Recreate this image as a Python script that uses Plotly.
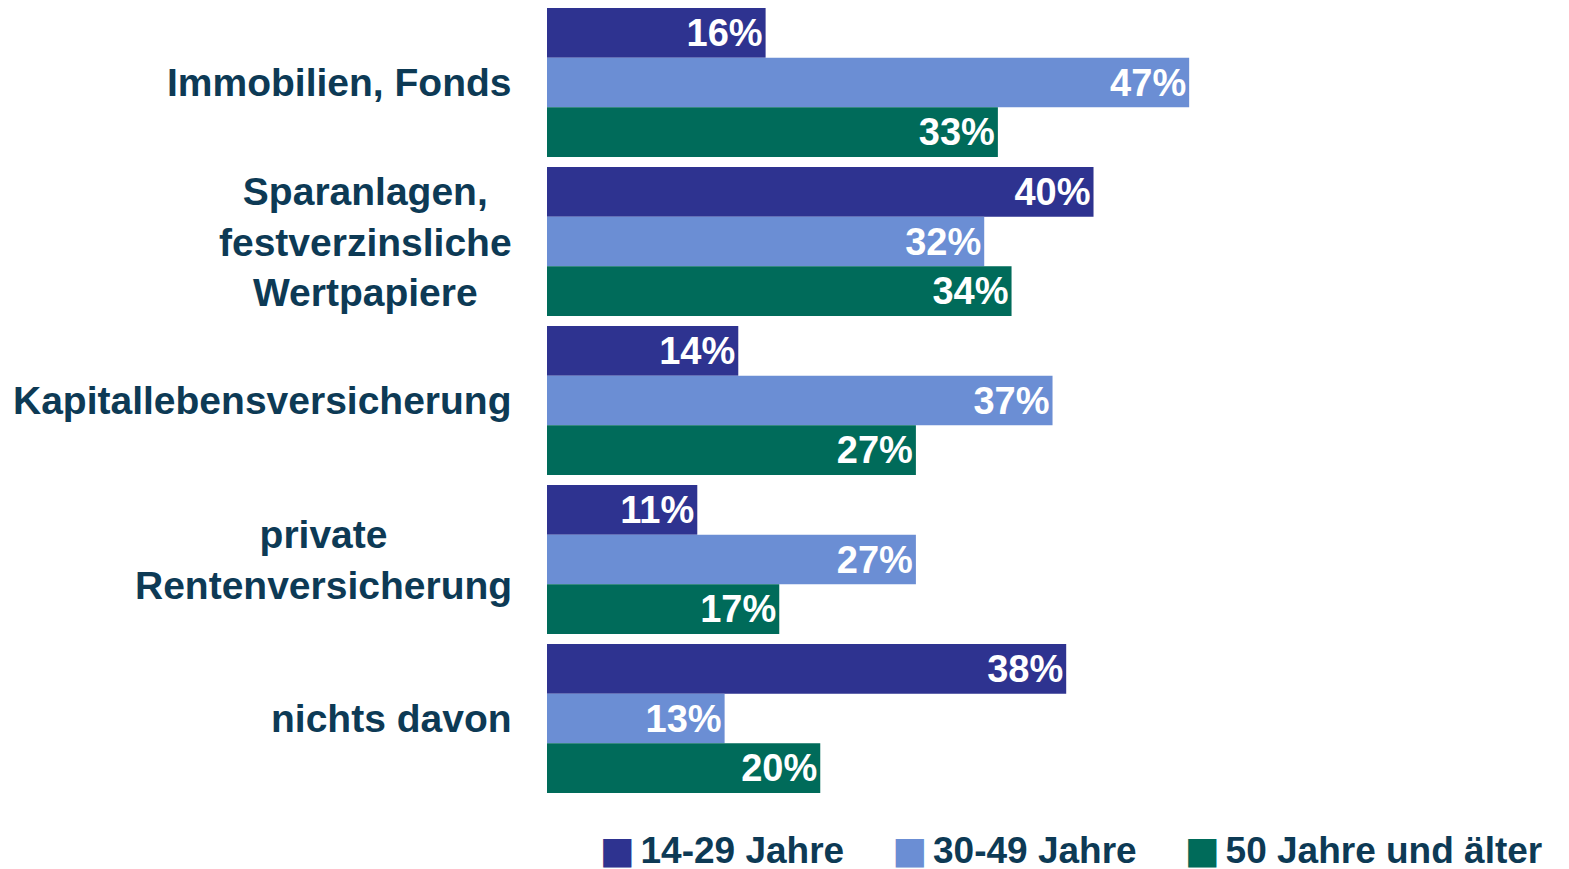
import plotly.graph_objects as go

categories = [
    "Immobilien, Fonds",
    "Sparanlagen,<br>festverzinsliche<br>Wertpapiere",
    "Kapitallebensversicherung",
    "private<br>Rentenversicherung",
    "nichts davon",
]
cat_keys = ["c0", "c1", "c2", "c3", "c4"]
series_names = ["14-29 Jahre", "30-49 Jahre", "50 Jahre und älter"]
values_14_29 = [16, 40, 14, 11, 38]
values_30_49 = [47, 32, 37, 27, 13]
values_50plus = [33, 34, 27, 17, 20]
colors = ["#2E3390", "#6B8ED4", "#006B5A"]

FONT = "Liberation Sans, Arial, sans-serif"
TEXT_COLOR = "#0D3A55"
SMALL_SP = "<span style='font-size:20px'>\u00a0</span>"
TAIL_SP = "<span style='font-size:12px'>\u00a0</span>"

fig = go.Figure()
for i, (name, vals, col) in enumerate(zip(series_names, [values_14_29, values_30_49, values_50plus], colors)):
    fig.add_trace(go.Bar(
        y=cat_keys, x=vals, name=name, orientation="h", showlegend=False,
        marker=dict(color=col, line=dict(width=0)),
        texttemplate="%{x}%", textposition="inside", insidetextanchor="end",
        textangle=0, constraintext="none",
        textfont=dict(family=FONT, size=38, color="white", weight=700),
        hoverinfo="skip",
    ))

# legend entries: coloured square glyph + label (symbol itself transparent)
for i, (name, col) in enumerate(zip(series_names, colors)):
    label = (f"<span style='color:{col};font-family:DejaVu Sans;font-size:37px'>\u25A0</span>"
             + SMALL_SP + name + (TAIL_SP if i < len(series_names) - 1 else ""))
    fig.add_trace(go.Scatter(
        x=[None], y=[None], mode="markers", name=label,
        marker=dict(color="rgba(0,0,0,0)", size=1), hoverinfo="skip",
    ))

for key, label in zip(cat_keys, categories):
    fig.add_annotation(
        x=0, xref="paper", y=key, yref="y", text=label, showarrow=False,
        xanchor="right", yanchor="middle", align="center", xshift=-33,
        font=dict(family=FONT, size=39, color=TEXT_COLOR, weight=700),
    )

fig.update_layout(
    width=1569, height=869,
    margin=dict(l=547, r=0, t=3, b=71, autoexpand=False),
    barmode="group", bargap=0.063, bargroupgap=0,
    plot_bgcolor="white", paper_bgcolor="white",
    showlegend=True,
    legend=dict(
        orientation="h", x=0.0127, xanchor="left", y=-0.025, yanchor="top",
        font=dict(family=FONT, size=37, color=TEXT_COLOR, weight=700),
        itemclick=False, bgcolor="rgba(0,0,0,0)",
    ),
    xaxis=dict(range=[0, 74.8], showticklabels=False, showgrid=False,
               zeroline=False, showline=False, fixedrange=True),
    yaxis=dict(categoryorder="array", categoryarray=cat_keys, autorange="reversed",
               showticklabels=False, showgrid=False, zeroline=False, showline=False),
)

fig.write_html("out.html", config={"displayModeBar": False},
               post_script="document.body.style.margin='0';document.body.style.overflow='hidden';")
